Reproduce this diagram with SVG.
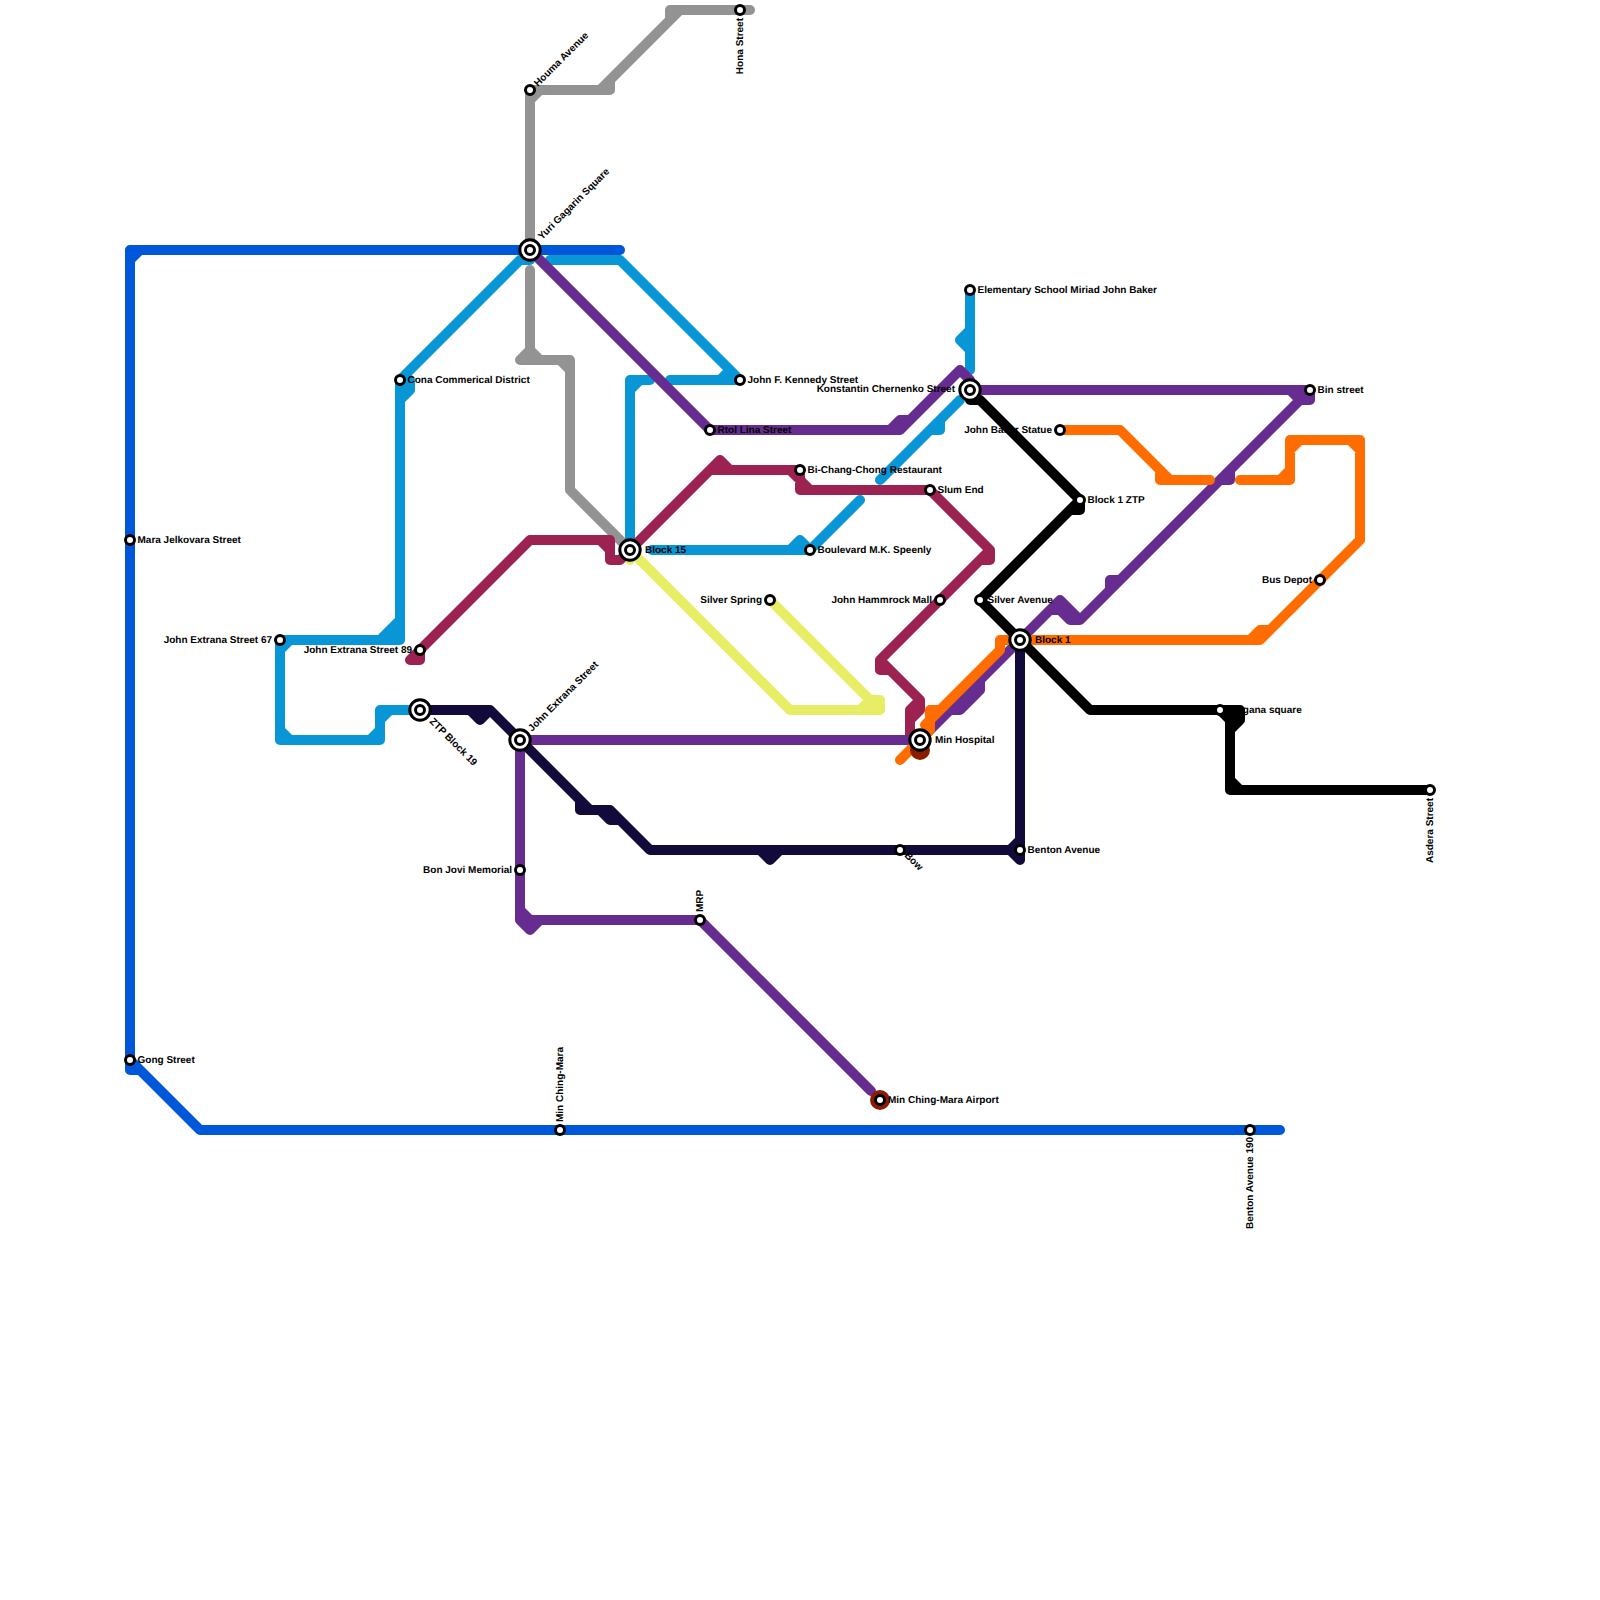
<svg xmlns="http://www.w3.org/2000/svg" width="1600" height="1600" viewBox="0 0 1600 1600">
<style>
.l{fill:none;stroke-width:10;stroke-linecap:round;stroke-linejoin:round}
.blue{stroke:#0057d9}.sky{stroke:#0896d7}.grey{stroke:#939393}.purple{stroke:#662c90}.red{stroke:#9b2251}.yellow{stroke:#e7ee65}.orange{stroke:#ff6c00}.navy{stroke:#130a3c}.black{stroke:#000}
.s{fill:#fff;stroke:#000;stroke-width:3}
.x{fill:#fff;stroke:#000;stroke-width:3}
text{font-family:"Liberation Sans",Arial,sans-serif;font-size:10px;font-weight:bold;fill:#000;text-rendering:geometricPrecision}
.e{text-anchor:end}
</style>
<rect width="1600" height="1600" fill="#fff"/>
<g id="connectors">
<path class="l blue" d="M620 250H130V1060L200 1130H1280M140 250L130 260M130 1060V1070H140"/>
<path class="l grey" d="M750 10H670V20M680 10L600 90M610 80V90H530V250M530 270V350L520 360H570V490L630 550M530 350L540 360M560 360L570 370M540 90L530 100"/>
<path class="l sky" d="M530 260H520L400 380V640H280V740H380V710H420M400 380H410V390L400 400M380 640L400 620M390 630H400M290 640L280 650M280 730L290 740M370 740L380 730M380 720L390 710"/>
<path class="l sky" d="M550 260H620L740 380H670M720 380L730 370"/>
<path class="l sky" d="M650 380H630V550M640 380L630 390M652 550H810L860 500M790 550L800 540L810 550"/>
<path class="l sky" d="M880 480L960 400M930 430H940V420M970 290V370M970 330L960 340L970 350"/>
<path class="l yellow" d="M770 600L870 700H880V710H790L630 550V560M860 710L870 700"/>
<path class="l red" d="M420 650V660H410L420 650L530 540H610V560H620L630 550L710 470H800V490H930L990 550V560H980M710 470L720 460L730 470M790 470L800 480L810 490M600 540L610 550M990 550L880 660V670H890L920 700V710L910 720M880 660L920 700L910 710V740"/>
<path class="l purple" d="M530 250L710 430H900L960 370L970 380V390H1310V400H1300L1080 620L1060 600L920 740H520V920H700L871 1091M890 430L900 420H910M1290 390L1300 400M1050 610H1060L1070 620H1080M1110 590V580H1120M1220 480H1230V470M980 680V690L960 710H950M520 910L530 920M520 920L530 930L540 920"/>
<path class="l orange" d="M1020 640H1000V650L940 710H930V730L900 760M940 710L925 725M1000 640H1260L1360 540V440H1290V480H1240M1250 640L1260 630H1270M1350 440L1360 450M1300 440L1290 450M1280 480L1290 470M1060 430H1120L1170 480H1210M1160 470V480H1170"/>
<path class="l navy" d="M420 710H490L590 810H610L650 850H1020V640M470 710L480 720L490 710M580 800V810H590M600 810L610 820H620M760 850L770 860L780 850M1010 850L1020 840M1010 850L1020 860V850"/>
</g>
<g id="node-john-baker-statue"><circle class="s" cx="1060" cy="430" r="4.5"/><text class="e" x="1052" y="432.5">John Baker Statue</text></g>
<g id="label-ragana-square"><text x="1230" y="712.5">Ragana square</text></g>
<g id="connectors-black">
<path class="l black" d="M970 390V400H980L1080 500V510H1070M1080 500L980 600L1090 710H1240V720L1230 730V790H1430M1220 710L1230 720V730M1230 715H1238M1230 780L1240 790"/>
</g>
<g id="node-yuri-gagarin-square"><circle class="x" cx="530" cy="250" r="10.2"/><circle class="s" cx="530" cy="250" r="4.5"/><text transform="translate(542 240) rotate(-45)">Yuri Gagarin Square</text></g>
<g id="node-houma-avenue"><circle class="s" cx="530" cy="90" r="4.5"/><text transform="translate(538 87) rotate(-45)">Houma Avenue</text></g>
<g id="node-hona-street"><circle class="s" cx="740" cy="10" r="4.5"/><text class="e" transform="translate(743 18) rotate(-90)">Hona Street</text></g>
<g id="node-cona"><circle class="s" cx="400" cy="380" r="4.5"/><text x="407.5" y="382.5">Cona Commerical District</text></g>
<g id="node-jfk"><circle class="s" cx="740" cy="380" r="4.5"/><text x="747.5" y="382.5">John F. Kennedy Street</text></g>
<g id="node-rtol-lina"><circle class="s" cx="710" cy="430" r="4.5"/><text x="717.5" y="432.5">Rtol Lina Street</text></g>
<g id="node-bi-chang-chong"><circle class="s" cx="800" cy="470" r="4.5"/><text x="807.5" y="472.5">Bi-Chang-Chong Restaurant</text></g>
<g id="node-slum-end"><circle class="s" cx="930" cy="490" r="4.5"/><text x="937.5" y="492.5">Slum End</text></g>
<g id="node-boulevard"><circle class="s" cx="810" cy="550" r="4.5"/><text x="817.5" y="552.5">Boulevard M.K. Speenly</text></g>
<g id="node-block-15"><circle class="x" cx="630" cy="550" r="10.2"/><circle class="s" cx="630" cy="550" r="4.5"/><text x="645" y="552.5">Block 15</text></g>
<g id="node-silver-spring"><circle class="s" cx="770" cy="600" r="4.5"/><text class="e" x="762" y="602.5">Silver Spring</text></g>
<g id="node-john-hammrock"><circle class="s" cx="940" cy="600" r="4.5"/><text class="e" x="932" y="602.5">John Hammrock Mall</text></g>
<g id="node-silver-avenue"><circle class="s" cx="980" cy="600" r="4.5"/><text x="987.5" y="602.5">Silver Avenue</text></g>
<g id="node-elementary"><circle class="s" cx="970" cy="290" r="4.5"/><text x="977.5" y="292.5">Elementary School Miriad John Baker</text></g>
<g id="node-konstantin"><circle class="x" cx="970" cy="390" r="10.2"/><circle class="s" cx="970" cy="390" r="4.5"/><text class="e" x="955" y="392">Konstantin Chernenko Street</text></g>
<g id="node-bin-street"><circle class="s" cx="1310" cy="390" r="4.5"/><text x="1317.5" y="392.5">Bin street</text></g>
<g id="node-block-1-ztp"><circle class="s" cx="1080" cy="500" r="4.5"/><text x="1087.5" y="502.5">Block 1 ZTP</text></g>
<g id="node-bus-depot"><circle class="s" cx="1320" cy="580" r="4.5"/><text class="e" x="1312" y="582.5">Bus Depot</text></g>
<g id="node-block-1"><circle class="x" cx="1020" cy="640" r="10.2"/><circle class="s" cx="1020" cy="640" r="4.5"/><text x="1035" y="642.5">Block 1</text></g>
<g id="node-ragana-square"><circle class="s" cx="1220" cy="710" r="4.5"/></g>
<g id="node-asdera"><circle class="s" cx="1430" cy="790" r="4.5"/><text class="e" transform="translate(1433 798) rotate(-90)">Asdera Street</text></g>
<g id="node-benton-avenue"><circle class="s" cx="1020" cy="850" r="4.5"/><text x="1027.5" y="852.5">Benton Avenue</text></g>
<g id="node-bow"><circle class="s" cx="900" cy="850" r="4.5"/><text transform="translate(904 856) rotate(45)">Bow</text></g>
<g id="node-min-hospital"><circle cx="920" cy="750" r="10" fill="#8a1c00"/><circle class="x" cx="920" cy="740" r="10.2"/><circle class="s" cx="920" cy="740" r="4.5"/><text x="935" y="742.5">Min Hospital</text></g>
<g id="node-john-extrana-67"><circle class="s" cx="280" cy="640" r="4.5"/><text class="e" x="272" y="642.5">John Extrana Street 67</text></g>
<g id="node-john-extrana-89"><circle class="s" cx="420" cy="650" r="4.5"/><text class="e" x="412" y="652.5">John Extrana Street 89</text></g>
<g id="node-ztp-block-19"><circle class="x" cx="420" cy="710" r="10.2"/><circle class="s" cx="420" cy="710" r="4.5"/><text transform="translate(429 722) rotate(45)">ZTP Block 19</text></g>
<g id="node-john-extrana-street"><circle class="x" cx="520" cy="740" r="10.2"/><circle class="s" cx="520" cy="740" r="4.5"/><text transform="translate(532 732) rotate(-45)">John Extrana Street</text></g>
<g id="node-bon-jovi"><circle class="s" cx="520" cy="870" r="4.5"/><text class="e" x="512" y="872.5">Bon Jovi Memorial</text></g>
<g id="node-mrp"><circle class="s" cx="700" cy="920" r="4.5"/><text transform="translate(703 912) rotate(-90)">MRP</text></g>
<g id="node-airport"><circle cx="880" cy="1100" r="10" fill="#8a1c00"/><circle class="s" cx="880" cy="1100" r="4.5"/><text x="888" y="1102.5">Min Ching-Mara Airport</text></g>
<g id="node-mara"><circle class="s" cx="130" cy="540" r="4.5"/><text x="137.5" y="542.5">Mara Jelkovara Street</text></g>
<g id="node-gong"><circle class="s" cx="130" cy="1060" r="4.5"/><text x="137.5" y="1062.5">Gong Street</text></g>
<g id="node-min-ching-mara"><circle class="s" cx="560" cy="1130" r="4.5"/><text transform="translate(563 1122) rotate(-90)">Min Ching-Mara</text></g>
<g id="node-benton-190"><circle class="s" cx="1250" cy="1130" r="4.5"/><text transform="translate(1253 1229) rotate(-90)">Benton Avenue 190</text></g>
</svg>
